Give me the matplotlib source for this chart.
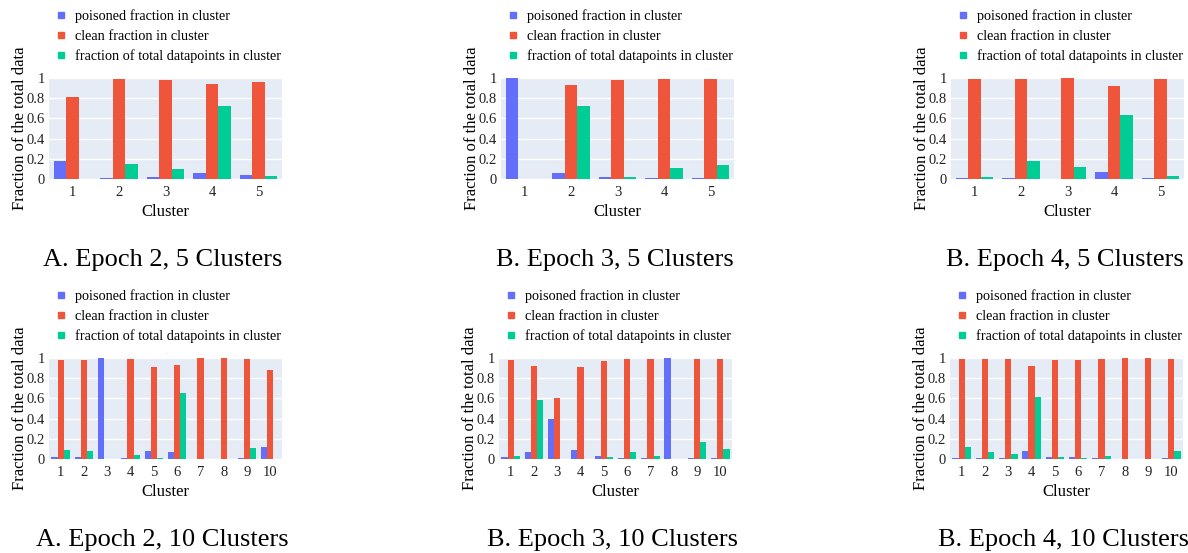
import numpy as np
import matplotlib
matplotlib.use("Agg")
import matplotlib.pyplot as plt
from matplotlib.lines import Line2D

plt.rcParams['font.family'] = ['Liberation Serif', 'DejaVu Serif']

#
# Data (fractions per cluster)
series_names = ["poisoned fraction in cluster",
                "clean fraction in cluster",
                "fraction of total datapoints in cluster"]
series_colors = ["#636EFA", "#EF553B", "#00CC96"]

clusters_5 = [1, 2, 3, 4, 5]
clusters_10 = [1, 2, 3, 4, 5, 6, 7, 8, 9, 10]

# Epoch 2, 5 clusters
e2_k5_poisoned = [0.178, 0.01, 0.02, 0.06, 0.036]
e2_k5_clean = [0.815, 0.99, 0.98, 0.937, 0.964]
e2_k5_total = [0.0, 0.145, 0.10, 0.72, 0.026]

# Epoch 3, 5 clusters
e3_k5_poisoned = [1.0, 0.063, 0.02, 0.013, 0.005]
e3_k5_clean = [0.0, 0.934, 0.98, 0.99, 0.995]
e3_k5_total = [0.0, 0.726, 0.02, 0.109, 0.139]

# Epoch 4, 5 clusters
e4_k5_poisoned = [0.012, 0.008, 0.004, 0.069, 0.012]
e4_k5_clean = [0.988, 0.992, 0.996, 0.924, 0.988]
e4_k5_total = [0.02, 0.18, 0.122, 0.63, 0.033]

# Epoch 2, 10 clusters
e2_k10_poisoned = [0.02, 0.02, 1.0, 0.01, 0.083, 0.065, 0.0, 0.0, 0.01, 0.123]
e2_k10_clean = [0.98, 0.98, 0.0, 0.99, 0.913, 0.933, 1.0, 1.0, 0.99, 0.877]
e2_k10_total = [0.093, 0.083, 0.0, 0.04, 0.01, 0.65, 0.0, 0.0, 0.107, 0.0]

# Epoch 3, 10 clusters
e3_k10_poisoned = [0.023, 0.073, 0.4, 0.09, 0.025, 0.01, 0.01, 1.0, 0.01, 0.005]
e3_k10_clean = [0.977, 0.923, 0.6, 0.91, 0.975, 0.99, 0.99, 0.0, 0.99, 0.995]
e3_k10_total = [0.025, 0.58, 0.0, 0.0, 0.015, 0.07, 0.03, 0.0, 0.165, 0.095]

# Epoch 4, 10 clusters
e4_k10_poisoned = [0.005, 0.005, 0.005, 0.075, 0.015, 0.015, 0.005, 0.0, 0.0, 0.005]
e4_k10_clean = [0.99, 0.995, 0.995, 0.925, 0.985, 0.98, 0.99, 1.0, 1.0, 0.99]
e4_k10_total = [0.12, 0.07, 0.045, 0.61, 0.015, 0.01, 0.03, 0.0, 0.0, 0.075]

panels = [
    ("A. Epoch 2, 5 Clusters", clusters_5, [e2_k5_poisoned, e2_k5_clean, e2_k5_total]),
    ("B. Epoch 3, 5 Clusters", clusters_5, [e3_k5_poisoned, e3_k5_clean, e3_k5_total]),
    ("B. Epoch 4, 5 Clusters", clusters_5, [e4_k5_poisoned, e4_k5_clean, e4_k5_total]),
    ("A. Epoch 2, 10 Clusters", clusters_10, [e2_k10_poisoned, e2_k10_clean, e2_k10_total]),
    ("B. Epoch 3, 10 Clusters", clusters_10, [e3_k10_poisoned, e3_k10_clean, e3_k10_total]),
    ("B. Epoch 4, 10 Clusters", clusters_10, [e4_k10_poisoned, e4_k10_clean, e4_k10_total]),
]

# axes boxes in figure pixels: left, top
W, H = 1188, 553
ax_w, ax_h = 233, 101
ax_boxes = [(49, 78), (501, 78), (951, 78), (49, 358), (499, 358), (950, 358)]

fig = plt.figure(figsize=(W / 100, H / 100), dpi=100)

for (title, clusters, values), (left, top) in zip(panels, ax_boxes):
    ax = fig.add_axes([left / W, 1 - (top + ax_h) / H, ax_w / W, ax_h / H])
    ax.set_facecolor("#E5ECF6")

    x = np.arange(len(clusters))
    group_w = 0.8
    bar_w = group_w / 3
    for j, (vals, color) in enumerate(zip(values, series_colors)):
        ax.bar(x - group_w / 2 + bar_w * (j + 0.5), vals, width=bar_w, color=color, linewidth=0, zorder=3)

    ax.set_xlim(-0.5, len(clusters) - 0.5)
    ax.set_ylim(0, 1)
    ax.set_xticks(x)
    ax.set_xticklabels([str(c) for c in clusters])
    ax.set_yticks([0, 0.2, 0.4, 0.6, 0.8, 1])
    ax.set_yticklabels(["0", "0.2", "0.4", "0.6", "0.8", "1"])
    ax.tick_params(axis="x", length=0, labelsize=10.5, pad=5, labelcolor="#222222")
    ax.tick_params(axis="y", length=0, labelsize=10.5, pad=3, labelcolor="#222222")
    ax.grid(axis="y", color="white", linewidth=1, zorder=0)
    for s in ax.spines.values():
        s.set_visible(False)

    ax.set_xlabel("Cluster", fontsize=12)
    ax.xaxis.set_label_coords(0.5, -0.25)
    ax.set_ylabel("Fraction of the total data", fontsize=12)
    ax.yaxis.set_label_coords(-0.09, 0.5)

    handles = [Line2D([], [], marker="s", linestyle="none", color=c, markersize=5) for c in series_colors]
    ax.legend(handles, series_names, loc="upper left", bbox_to_anchor=(0.025, 1.68),
              frameon=False, fontsize=10.3, handlelength=0.8, handletextpad=0.6,
              labelspacing=0.46, borderaxespad=0, borderpad=0)

    fig.text((left + ax_w / 2 - 3) / W, 1 - (top + 182) / H, title,
             fontsize=19, ha="center", va="center")

fig.savefig("out.png", dpi=100)
